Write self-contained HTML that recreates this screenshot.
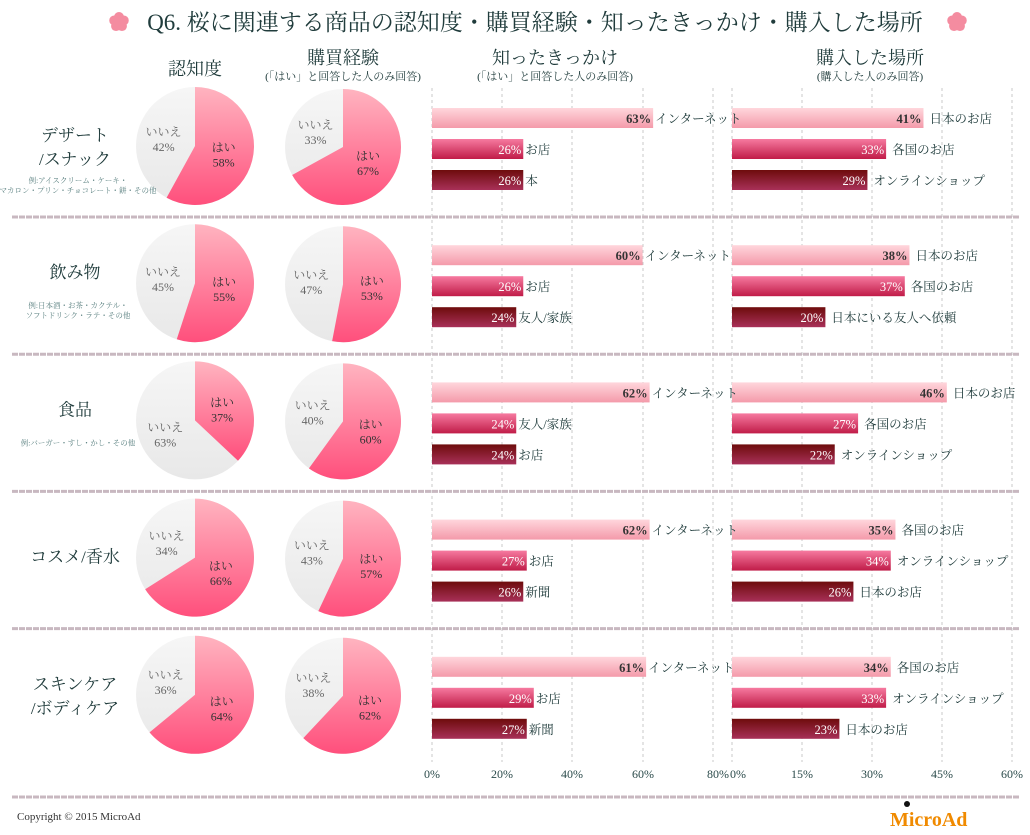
<!DOCTYPE html>
<html><head><meta charset="utf-8">
<style>
body{margin:0;background:#fff;width:1030px;height:830px;overflow:hidden;font-family:"Liberation Serif","Noto Serif CJK JP","Noto Serif CJK SC",serif;}
svg text{font-family:"Liberation Serif","Noto Serif CJK JP","Noto Serif CJK SC",serif;}
</style></head><body>
<svg id="s" width="1030" height="830" xmlns="http://www.w3.org/2000/svg">
<defs>
<linearGradient id="gp" x1="0" y1="0" x2="0" y2="1"><stop offset="0" stop-color="#ffb4c0"/><stop offset="1" stop-color="#ff4f7c"/></linearGradient>
<linearGradient id="gg" x1="0" y1="0" x2="0" y2="1"><stop offset="0" stop-color="#f6f6f6"/><stop offset="1" stop-color="#e8e8e8"/></linearGradient>
<linearGradient id="b1" x1="0" y1="0" x2="0" y2="1"><stop offset="0" stop-color="#ffd6dc"/><stop offset="1" stop-color="#f49aaa"/></linearGradient>
<linearGradient id="b2" x1="0" y1="0" x2="0" y2="1"><stop offset="0" stop-color="#f67aa0"/><stop offset="1" stop-color="#c01c48"/></linearGradient>
<linearGradient id="b3" x1="0" y1="0" x2="0" y2="1"><stop offset="0" stop-color="#6e0c0c"/><stop offset="1" stop-color="#a83058"/></linearGradient>
</defs>
<g id="g"></g><g id="t"></g>
</svg>
<script>
var NS="http://www.w3.org/2000/svg",G=document.getElementById('g'),T=document.getElementById('t');
function el(t,a,txt,par){var e=document.createElementNS(NS,t);for(var k in a)e.setAttribute(k,a[k]);if(txt!=null)e.textContent=txt;(par||G).appendChild(e);return e;}
function tx(x,y,s,sz,fill,anchor,extra){var a={x:x,y:y,'font-size':sz,fill:fill||'#203c3c','text-anchor':anchor||'middle'};for(var k in extra)a[k]=extra[k];return el('text',a,s,T);}
[432,502,572,643,713,732,802,872,942,1012].forEach(function(x){el('line',{x1:x,y1:88,x2:x,y2:762,stroke:'#c8c8c8','stroke-dasharray':'3,3','stroke-width':1});});
[[432,'0%'],[502,'20%'],[572,'40%'],[643,'60%'],[718,'80%'],[738,'0%'],[802,'15%'],[872,'30%'],[942,'45%'],[1012,'60%']].forEach(function(a){tx(a[0],778,a[1],12,'#2a4a4a');});
tx(535,30,'Q6. 桜に関連する商品の認知度・購買経験・知ったきっかけ・購入した場所',23,'#203c3c');
function sakura(cx,cy){for(var i=0;i<5;i++){var a=(i*72-90)*Math.PI/180;el('circle',{cx:cx+5*Math.cos(a),cy:cy+5*Math.sin(a),r:5,fill:'#f48ca0'});}}
sakura(119,22);sakura(957,22);
tx(195,75,'認知度',18);tx(343,64,'購買経験',18);tx(343,80,'(「はい」と回答した人のみ回答)',11);
tx(555,64,'知ったきっかけ',18);tx(555,80,'(「はい」と回答した人のみ回答)',11);
tx(870,64,'購入した場所',18);tx(870,80,'(購入した人のみ回答)',11);
function pie(cx,cy,r,p){var a0=-Math.PI/2,a1=a0+p/100*2*Math.PI;var x1=cx+r*Math.cos(a1),y1=cy+r*Math.sin(a1);var lg=p>50?1:0;
el('circle',{cx:cx,cy:cy,r:r,fill:'url(#gg)'});
el('path',{d:'M'+cx+','+cy+' L'+cx+','+(cy-r)+' A'+r+','+r+' 0 '+lg+' 1 '+x1+','+y1+' Z',fill:'url(#gp)'});
var m=(a0+a1)/2,lx=cx+r*0.5*Math.cos(m),ly=cy+r*0.5*Math.sin(m);tx(lx,ly-2,'はい',12,'#333');tx(lx,ly+13,p+'%',12,'#333');
var m2=a1+(2*Math.PI-p/100*2*Math.PI)/2,gx=cx+r*0.55*Math.cos(m2),gy=cy+r*0.55*Math.sin(m2);tx(gx,gy-2,'いいえ',12,'#666');tx(gx,gy+13,(100-p)+'%',12,'#666');}
var rows=[
{n:['デザート','/スナック'],s:['例:アイスクリーム・ケーキ・','マカロン・プリン・チョコレート・餅・その他'],p:[58,67],L:[[63,'インターネット'],[26,'お店'],[26,'本']],R:[[41,'日本のお店'],[33,'各国のお店'],[29,'オンラインショップ']]},
{n:['飲み物'],s:['例:日本酒・お茶・カクテル・','ソフトドリンク・ラテ・その他'],p:[55,53],L:[[60,'インターネット'],[26,'お店'],[24,'友人/家族']],R:[[38,'日本のお店'],[37,'各国のお店'],[20,'日本にいる友人へ依頼']]},
{n:['食品'],s:['例:バーガー・すし・かし・その他'],p:[37,60],L:[[62,'インターネット'],[24,'友人/家族'],[24,'お店']],R:[[46,'日本のお店'],[27,'各国のお店'],[22,'オンラインショップ']]},
{n:['コスメ/香水'],s:[],p:[66,57],L:[[62,'インターネット'],[27,'お店'],[26,'新聞']],R:[[35,'各国のお店'],[34,'オンラインショップ'],[26,'日本のお店']]},
{n:['スキンケア','/ボディケア'],s:[],p:[64,62],L:[[61,'インターネット'],[29,'お店'],[27,'新聞']],R:[[34,'各国のお店'],[33,'オンラインショップ'],[23,'日本のお店']]}];
rows.forEach(function(r,i){var cy=137+i*137.2;
 if(r.n.length==2){tx(75,cy+4,r.n[0],17);tx(75,cy+28,r.n[1],17);}else{tx(75,cy+(r.s.length?4:14),r.n[0],17);}
 r.s.forEach(function(s,j){tx(78,cy+(r.n.length==2?46:34)+j*10,s,7.5,'#5a8080');});
 pie(195,cy+9,59,r.p[0]);pie(343,cy+10,58,r.p[1]);
 var fills=['url(#b1)','url(#b2)','url(#b3)'],tc=['#333','#fff','#fff'];
 r.L.forEach(function(b,j){var y=cy-29+j*31,w=b[0]*3.51;el('rect',{x:432,y:y,width:w,height:20,fill:fills[j]});tx(432+w-2,y+15,b[0]+'%',12.5,tc[j],'end',{'font-weight':j==0?'bold':'normal'});tx(432+w+2,y+15,b[1],12.5,'#203c3c','start');});
 r.R.forEach(function(b,j){var y=cy-29+j*31,w=b[0]*4.67;el('rect',{x:732,y:y,width:w,height:20,fill:fills[j]});tx(732+w-2,y+15,b[0]+'%',12.5,tc[j],'end',{'font-weight':j==0?'bold':'normal'});tx(732+w+6,y+15,b[1],12.5,'#203c3c','start');});
 if(i<4)el('line',{x1:12,y1:cy+80,x2:1020,y2:cy+80,stroke:'#c8b8c0','stroke-width':3,'stroke-dasharray':'6,1'});
});
el('line',{x1:12,y1:797,x2:1020,y2:797,stroke:'#c8b8c0','stroke-width':3,'stroke-dasharray':'6,1'});
el('text',{x:17,y:820,'font-size':11,fill:'#333','font-family':'Liberation Sans, sans-serif'},'Copyright © 2015 MicroAd',T);
el('text',{x:890,y:826,'font-size':20,fill:'#f08a00','font-weight':'bold','font-family':'Liberation Sans, sans-serif'},'MicroAd',T);
el('circle',{cx:907,cy:804,r:3,fill:'#111'});
</script>
</body></html>
